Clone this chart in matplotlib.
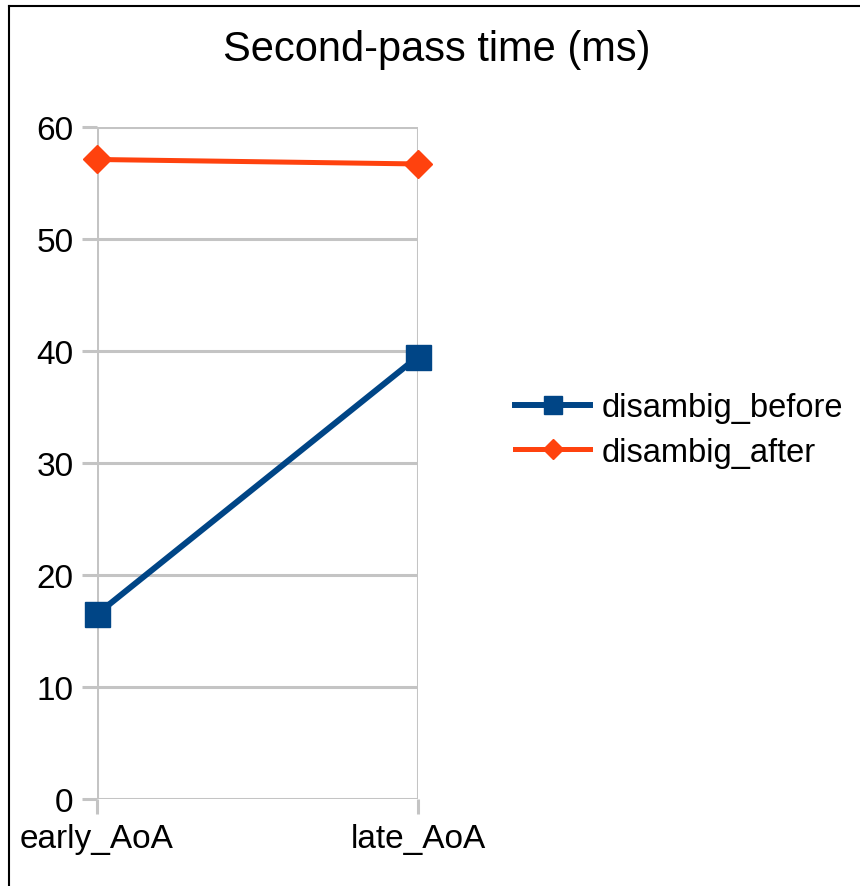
"""Second-pass time (ms) by AoA, LibreOffice-style line chart."""
import matplotlib
matplotlib.use("Agg")
import matplotlib.pyplot as plt  # noqa: E402
from matplotlib.lines import Line2D  # noqa: E402

plt.rcParams["font.family"] = ["Liberation Sans", "DejaVu Sans"]

categories = ["early_AoA", "late_AoA"]
disambig_before = [16.5, 39.5]
disambig_after = [57.1, 56.7]
y_ticks = [0, 10, 20, 30, 40, 50, 60]

BLUE = "#004586"
ORANGE = "#ff420e"
GRID = "#c4c4c4"

W, H = 860, 887
fig = plt.figure(figsize=(W / 100, H / 100), dpi=100)
ax = fig.add_axes([97 / W, 1 - 800 / H, (418 - 97) / W, (800 - 128) / H])

x = list(range(len(categories)))
ax.plot(x, disambig_before, color=BLUE, lw=4.3, marker="s", ms=18,
        clip_on=False, zorder=3, label="disambig_before")
ax.plot(x, disambig_after, color=ORANGE, lw=3.6, marker="D", ms=14,
        clip_on=False, zorder=3, label="disambig_after")

ax.set_xlim(0, len(categories) - 1)
ax.set_ylim(0, 60)
ax.set_xticks(x)
ax.set_xticklabels(categories)
ax.set_yticks(y_ticks)
ax.grid(True, color=GRID, lw=2.2)
ax.set_axisbelow(True)
for s in ax.spines.values():
    s.set_visible(False)
ax.tick_params(axis="both", length=11, width=2.2, color=GRID, labelsize=24,
               labelcolor="#000000", pad=6)
ax.tick_params(axis="x", pad=6)

fig.text(437 / W, 1 - 50 / H, "Second-pass time (ms)", ha="center",
         va="center", fontsize=30)

fig.legend(loc="center left", bbox_to_anchor=(515 / W, 1 - 431 / H),
           bbox_transform=fig.transFigure, frameon=False, fontsize=23.5,
           borderpad=0, borderaxespad=0, handlelength=2.3, handletextpad=0.35,
           labelspacing=0.4, markerscale=0.75)

# outer frame (top and left edges visible)
fig.add_artist(Line2D([9 / W, 1], [1 - 7 / H, 1 - 7 / H], color="black",
                      lw=1.5, transform=fig.transFigure))
fig.add_artist(Line2D([9 / W, 9 / W], [0, 1 - 7 / H], color="black",
                      lw=1.5, transform=fig.transFigure))

fig.savefig("out.png", dpi=100)
